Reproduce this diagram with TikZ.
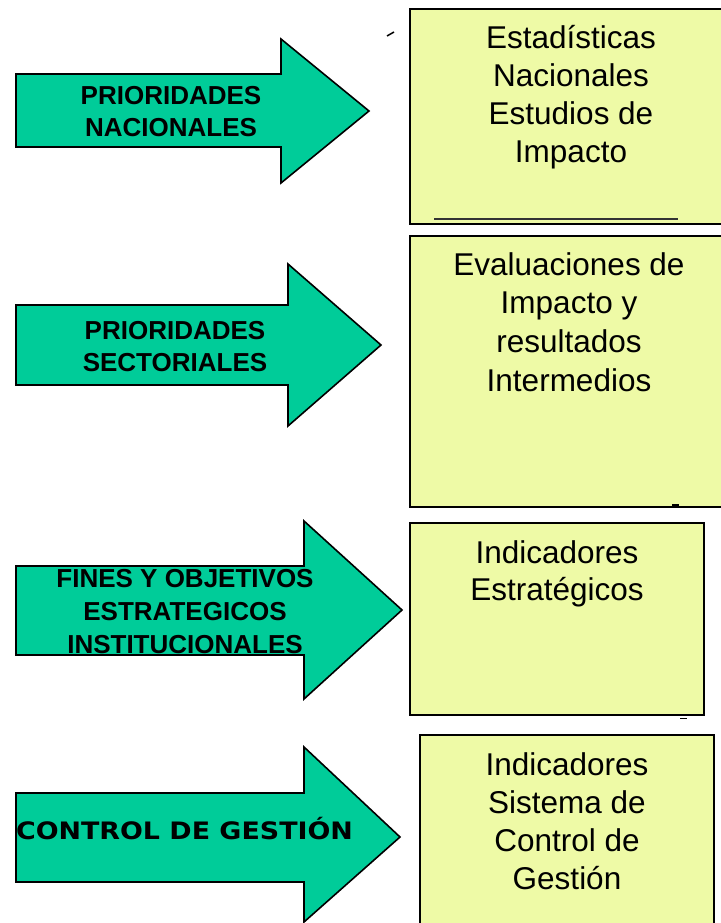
\documentclass[tikz,border=0pt]{standalone}
\usepackage{fontspec}
\setmainfont{Liberation Sans}
\newfontfamily\verdfont[FakeStretch=1.12]{DejaVu Sans}
\definecolor{arrowgreen}{RGB}{0,204,153}
\definecolor{boxyellow}{RGB}{238,250,166}
\newcommand\mylines[1]{\begin{tabular}[t]{@{}c@{}}#1\end{tabular}}
\begin{document}
\begin{tikzpicture}[x=1pt,y=-1pt,
  arrowshape/.style={fill=arrowgreen,draw=black,line width=1.6pt,line join=miter},
  infobox/.style={fill=boxyellow,draw=black,line width=2.2pt,inner sep=0pt,anchor=north west},
  boxtext/.style={anchor=base,inner sep=0pt,font=\fontsize{31.5}{38}\selectfont},
  arrowtext/.style={anchor=base,inner sep=0pt,font=\fontsize{26}{32}\selectfont\bfseries},
  tickmark/.style={draw=black,line width=1.6pt}]
\useasboundingbox (0,0) rectangle (720,923);
% boxes
\node[infobox,minimum width=321pt,minimum height=215pt] (b1) at (409,8) {};
\node[infobox,minimum width=321pt,minimum height=271pt] (b2) at (409,235) {};
\node[infobox,minimum width=294pt,minimum height=192pt] (b3) at (409,522) {};
\node[infobox,minimum width=294pt,minimum height=200pt] (b4) at (419,734) {};
% small marks
\coordinate (u1) at (434,219); \coordinate (u2) at (678,219);
\draw[draw=black!80,line width=2pt] (u1) -- (u2);
\coordinate (k1) at (387,36); \coordinate (k2) at (394,32);
\draw[tickmark,line width=1.5pt] (k1) -- (k2);
\coordinate (d1) at (672,505.5); \coordinate (d2) at (679,505.5);
\draw[tickmark,line width=2.4pt] (d1) -- (d2);
\coordinate (e1) at (680,718.5); \coordinate (e2) at (687,718.5);
\draw[tickmark,line width=1.6pt] (e1) -- (e2);
% arrows
\draw[arrowshape] (16,74) -- (281,74) -- (281,39) -- (369,111) -- (281,183) -- (281,147) -- (16,147) -- cycle;
\draw[arrowshape] (16,305) -- (288,305) -- (288,264) -- (381,345) -- (288,426) -- (288,385) -- (16,385) -- cycle;
\draw[arrowshape] (16,566) -- (304,566) -- (304,521) -- (402,610) -- (304,699) -- (304,655) -- (16,655) -- cycle;
\draw[arrowshape] (16,793) -- (304,793) -- (304,747) -- (400,837) -- (304,922) -- (304,882) -- (16,882) -- cycle;
% arrow texts
\node[arrowtext] (a1) at (171,105) {\mylines{PRIORIDADES\\NACIONALES}};
\node[arrowtext] (a2) at (175,339) {\mylines{PRIORIDADES\\SECTORIALES}};
\node[arrowtext,font=\fontsize{26}{33}\selectfont\bfseries] (a3) at (185,587) {\mylines{FINES Y OBJETIVOS\\ESTRATEGICOS\\INSTITUCIONALES}};
\node[anchor=base,inner sep=0pt,font=\verdfont\bfseries\fontsize{24}{30}\selectfont] (a4) at (184.5,839) {CONTROL DE GESTIÓN};
% box texts
\node[boxtext] (t1) at (571,49) {\mylines{Estadísticas\\Nacionales\\Estudios de\\Impacto}};
\node[boxtext,font=\fontsize{31.5}{38.7}\selectfont] (t2) at (569,275) {\mylines{Evaluaciones de\\Impacto y\\resultados\\Intermedios}};
\node[boxtext,font=\fontsize{31.5}{37}\selectfont] (t3) at (557,563) {\mylines{Indicadores\\Estratégicos}};
\node[boxtext] (t4) at (567,775) {\mylines{Indicadores\\Sistema de\\Control de\\Gestión}};
\end{tikzpicture}
\end{document}
